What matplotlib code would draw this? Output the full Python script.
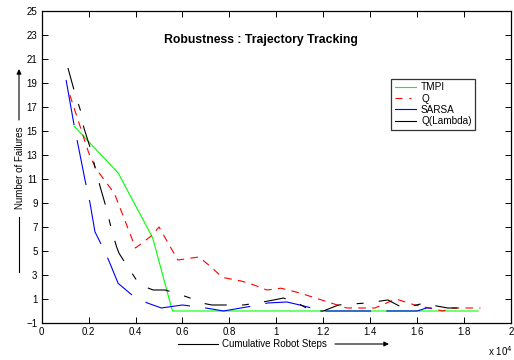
import matplotlib
matplotlib.use('Agg')
import matplotlib.pyplot as plt

# Cumulative robot steps (x 10^4) and number of failures for each method
tmpi_x = [0.138, 0.326, 0.473, 0.557, 1.86]
tmpi_y = [15.4, 11.5, 6.1, 0.0, 0.0]

q_x = [0.12, 0.20, 0.23, 0.26, 0.31, 0.40, 0.47, 0.50, 0.58, 0.67, 0.72, 0.77, 0.85,
       0.90, 0.96, 1.02, 1.10, 1.22, 1.30, 1.42, 1.51, 1.59, 1.71, 1.75, 1.87]
q_y = [18.0, 13.2, 11.9, 11.1, 9.8, 5.25, 6.3, 7.0, 4.25, 4.5, 3.7, 2.8, 2.5,
       2.2, 1.75, 1.9, 1.5, 0.75, 0.25, 0.25, 1.0, 0.5, 0.0, 0.25, 0.25]

sarsa_x = [0.104, 0.138, 0.19, 0.206, 0.227, 0.25, 0.285, 0.326, 0.385, 0.45, 0.51, 0.60,
           0.70, 0.775, 0.90, 0.965, 1.045, 1.10, 1.15, 1.20, 1.60, 1.64, 1.67]
sarsa_y = [19.25, 15.5, 10.4, 9.0, 6.6, 5.7, 4.25, 2.3, 1.33, 0.67, 0.25, 0.5,
           0.25, 0.0, 0.42, 0.67, 0.75, 0.5, 0.25, 0.0, 0.0, 0.25, 0.25]

qlam_x = [0.112, 0.138, 0.167, 0.18, 0.21, 0.23, 0.25, 0.275, 0.30, 0.32, 0.33, 0.364,
          0.40, 0.415, 0.475, 0.525, 0.57, 0.63, 0.66, 0.725, 0.86, 0.92, 0.99, 1.03,
          1.09, 1.15, 1.20, 1.265, 1.32, 1.39, 1.475, 1.54, 1.635, 1.66, 1.73, 1.775]
qlam_y = [20.25, 18.4, 16.6, 15.25, 13.4, 11.75, 10.3, 8.6, 6.6, 5.3, 4.8, 3.75,
          2.7, 2.2, 1.75, 1.75, 1.5, 1.1, 0.75, 0.5, 0.5, 0.67, 0.92, 1.08,
          0.67, 0.0, 0.0, 0.5, 0.58, 0.67, 0.92, 0.25, 0.67, 0.5, 0.25, 0.25]

x_ticks = [0, 0.2, 0.4, 0.6, 0.8, 1, 1.2, 1.4, 1.6, 1.8, 2]
x_tick_labels = ['0', '0.2', '0.4', '0.6', '0.8', '1', '1.2', '1.4', '1.6', '1.8', '2']
y_ticks = list(range(-1, 26, 2))

plt.rcParams['font.family'] = ['Liberation Sans', 'DejaVu Sans']
plt.rcParams['lines.scale_dashes'] = False

fig = plt.figure(figsize=(5.14, 3.6), dpi=100)
ax = fig.add_axes([0.0811, 0.1028, 0.913, 0.8667])

ax.plot(tmpi_x, tmpi_y, color=(0, 1, 0), lw=0.8, label='TMPI')
ax.plot(q_x, q_y, color='red', lw=0.8, dashes=(5.5, 4.5), label='Q')
ax.plot(sarsa_x, sarsa_y, color='blue', lw=0.8, dashes=(33, 11), label='SARSA')
ax.plot(qlam_x, qlam_y, color='black', lw=0.8, dashes=(16, 11, 5, 11), label='Q(Lambda)')

ax.set_xlim(0, 2)
ax.set_ylim(-1, 25)
ax.set_xticks(x_ticks)
ax.set_xticklabels(x_tick_labels)
ax.set_yticks(y_ticks)
ax.tick_params(direction='in', length=4, width=0.7, labelsize=7,
               top=True, right=True, pad=3)
for sp in ax.spines.values():
    sp.set_linewidth(0.9)

# title sits inside the axes
ax.text(0.933, 22.6, 'Robustness : Trajectory Tracking', ha='center', va='center',
        fontsize=8.8, fontweight='bold')

leg = ax.legend(loc='upper left', bbox_to_anchor=(391 / 514, 1 - 79 / 360),
                bbox_transform=fig.transFigure, fontsize=7.2, frameon=True,
                fancybox=False, handlelength=2.1, handletextpad=0.55,
                borderpad=0.35, labelspacing=0.12, borderaxespad=0)
leg.get_frame().set_edgecolor('black')
leg.get_frame().set_linewidth(0.9)
# long dashes show as solid in the short legend samples
for h in leg.get_lines():
    if h.get_label() in ('SARSA', 'Q(Lambda)'):
        h.set_linestyle('-')
    elif h.get_label() == 'Q':
        h.set_dashes((5, 5, 1.5, 5))

# axis labels with arrows, placed in figure pixels
W, H = 514, 360
fig.text(222 / W, 1 - 344 / H, 'Cumulative Robot Steps', fontsize=7, ha='left', va='center')
fig.add_artist(plt.Line2D([178 / W, 218 / W], [1 - 344 / H, 1 - 344 / H],
                          color='black', lw=0.8, transform=fig.transFigure))
ax.annotate('', xy=(389 / W, 1 - 344 / H), xytext=(335 / W, 1 - 344 / H),
            xycoords='figure fraction', textcoords='figure fraction',
            arrowprops=dict(arrowstyle='-|>', color='black', lw=0.8,
                            mutation_scale=7, shrinkA=0, shrinkB=0))

fig.text(20 / W, 1 - 168 / H, 'Number of Failures', fontsize=7, rotation=90,
         ha='center', va='center')
fig.add_artist(plt.Line2D([19 / W, 19 / W], [1 - 272 / H, 1 - 217 / H],
                          color='black', lw=0.8, transform=fig.transFigure))
ax.annotate('', xy=(19 / W, 1 - 69 / H), xytext=(19 / W, 1 - 120 / H),
            xycoords='figure fraction', textcoords='figure fraction',
            arrowprops=dict(arrowstyle='-|>', color='black', lw=0.8,
                            mutation_scale=7, shrinkA=0, shrinkB=0))

fig.text(488 / W, 1 - 351 / H, 'x 10$^4$', fontsize=7, ha='left', va='center')

fig.savefig('out.png', dpi=100)
